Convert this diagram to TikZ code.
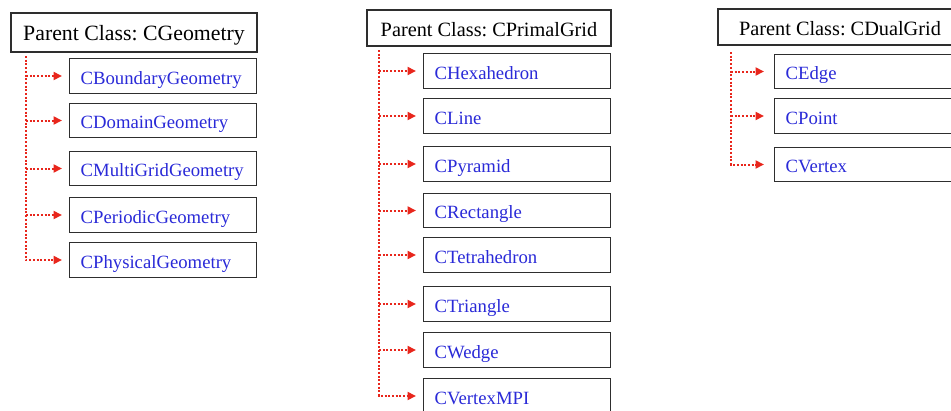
\documentclass[tikz,border=0pt]{standalone}
\usepackage{fontspec}
\setmainfont{Liberation Serif}
\usepackage{tikz}
\usetikzlibrary{arrows.meta,positioning}
\definecolor{cclass}{HTML}{2A2AD8}
\definecolor{clink}{HTML}{E8261C}
\definecolor{cframe}{HTML}{2E2E2E}
\frenchspacing
\tikzset{
  box/.style={draw=cframe, line width=1.4pt, fill=white, inner sep=0pt},
  parent/.style={box, minimum width=244pt, minimum height=36pt, text height=16pt, text depth=0pt,
    font=\fontsize{20.3}{24}\selectfont, text=black},
  child/.style={box, anchor=west, minimum height=34.5pt, inner xsep=11pt, text width=165pt, align=left,
    text height=16pt, text depth=0pt, font=\fontsize{18.7}{22}\selectfont, text=cclass},
  trunk/.style={draw=clink, line width=2pt, dash pattern=on 2pt off 1.7pt},
  pre/.style={trunk, -{Triangle[length=8.5pt,width=8pt,fill=clink]}, shorten >=7pt},
}
\begin{document}
\begin{tikzpicture}[x=1pt,y=-1pt]
\useasboundingbox (0,0) rectangle (951,410);
% CGeometry
\node[parent, minimum width=246pt, minimum height=39pt, font=\fontsize{21.8}{26}\selectfont] (geo) at (134,32.5) {Parent Class: CGeometry};
\node[child] (bnd) at (69,76) {CBoundaryGeometry};
\node[child] (dom) at (69,120.5) {CDomainGeometry};
\node[child] (mgr) at (69,168.5) {CMultiGridGeometry};
\node[child] (per) at (69,215) {CPeriodicGeometry};
\node[child] (phy) at (69,260) {CPhysicalGeometry};
\coordinate (geotop) at (26,56);
\draw[pre] (geotop) |- (phy.west);
\draw[pre] (geotop |- bnd.west) -- (bnd.west);
\draw[pre] (geotop |- dom.west) -- (dom.west);
\draw[pre] (geotop |- mgr.west) -- (mgr.west);
\draw[pre] (geotop |- per.west) -- (per.west);
% CPrimalGrid
\node[parent] (prim) at (489,28) {Parent Class: CPrimalGrid};
\node[child] (hex) at (423,71) {CHexahedron};
\node[child] (lin) at (423,116) {CLine};
\node[child] (pyr) at (423,164) {CPyramid};
\node[child] (rec) at (423,210.5) {CRectangle};
\node[child] (tet) at (423,255) {CTetrahedron};
\node[child] (tri) at (423,304) {CTriangle};
\node[child] (wed) at (423,350) {CWedge};
\node[child] (vmpi) at (423,396) {CVertexMPI};
\coordinate (primtop) at (379,50);
\draw[pre] (primtop) |- (vmpi.west);
\draw[pre] (primtop |- hex.west) -- (hex.west);
\draw[pre] (primtop |- lin.west) -- (lin.west);
\draw[pre] (primtop |- pyr.west) -- (pyr.west);
\draw[pre] (primtop |- rec.west) -- (rec.west);
\draw[pre] (primtop |- tet.west) -- (tet.west);
\draw[pre] (primtop |- tri.west) -- (tri.west);
\draw[pre] (primtop |- wed.west) -- (wed.west);
% CDualGrid
\node[parent] (dual) at (840,27) {Parent Class: CDualGrid};
\node[child, text width=178pt] (edg) at (774,71.5) {CEdge};
\node[child, text width=178pt] (pnt) at (774,116) {CPoint};
\node[child, text width=178pt] (vtx) at (774,164.5) {CVertex};
\coordinate (dualtop) at (731,52);
\draw[pre, shorten >=10pt] (dualtop) |- (vtx.west);
\draw[pre, shorten >=10pt] (dualtop |- edg.west) -- (edg.west);
\draw[pre, shorten >=10pt] (dualtop |- pnt.west) -- (pnt.west);
\end{tikzpicture}
\end{document}
